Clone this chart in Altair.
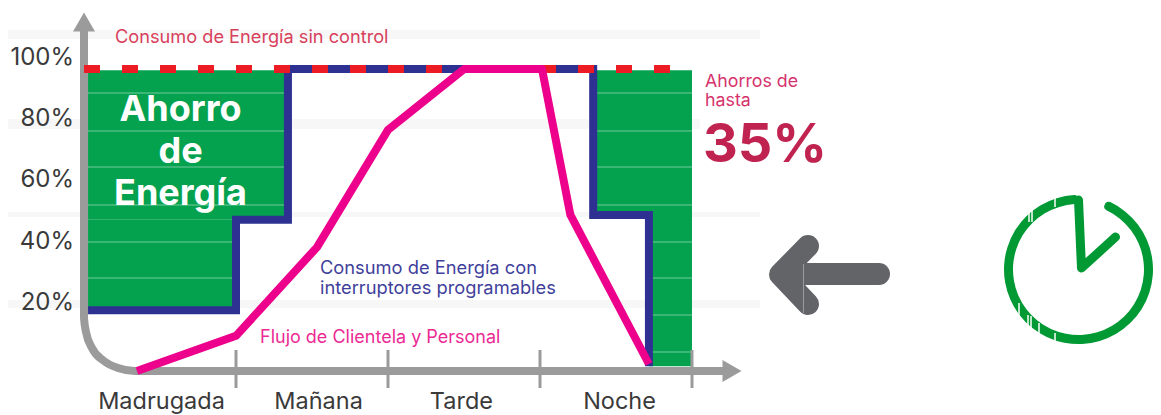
import altair as alt
import pandas as pd

W, H = 1145, 407

# Main series: x in hours of the day (0-24), y in percent
period_names = ["Madrugada", "Mañana", "Tarde", "Noche"]
period_label_h = [3.06, 9.26, 14.9, 21.14]
period_ticks_h = [6, 12, 18, 24]
pct_labels = ["100%", "80%", "60%", "40%", "20%"]
pct_values = [100, 80, 60, 40, 20]

switch_h = [0.16, 6, 6, 8.05, 8.05, 20.1, 20.1, 22.3, 22.3]
switch_pct = [17.6, 17.6, 47.1, 47.1, 96.4, 96.4, 48.7, 48.7, -0.7]

flow_h = [2.09, 6, 9.2, 12, 15, 18.08, 19.2, 22.3]
flow_pct = [-2.3, 9.2, 38.2, 76.5, 96.4, 96.4, 48.7, 0.0]

uncontrolled_h = [0, 24]
uncontrolled_pct = [96.4, 96.4]

saving_h = [0.16, 0.16, 20.1, 22.3]
saving_h2 = [8.05, 6, 24, 24]
saving_top = [96.0, 47.1, 96.0, 48.7]
saving_bot = [47.1, 17.6, 48.7, -0.7]


def hx(px):
    return (px - 84) / 25.333


def pc(py):
    return (364 - py) / 3.06


xs = alt.Scale(domain=[hx(8), hx(8 + W)], nice=False, zero=False)
ys = alt.Scale(domain=[pc(8 + H), pc(8)], nice=False, zero=False)
X = lambda f="x": alt.X(f"{f}:Q", scale=xs, axis=None)
Y = lambda f="y": alt.Y(f"{f}:Q", scale=ys, axis=None)


def line(x, y, color, width, **kw):
    df = pd.DataFrame({"x": x, "y": y, "i": range(len(x))})
    kw.setdefault("strokeCap", "butt")
    kw.setdefault("strokeJoin", "miter")
    return alt.Chart(df).mark_line(color=color, strokeWidth=width, **kw).encode(
        x=X(), y=Y(), order=alt.Order("i:Q")
    )


def rects(x, x2, y, y2, color, **kw):
    df = pd.DataFrame({"x": x, "x2": x2, "y": y, "y2": y2})
    return alt.Chart(df).mark_rect(color=color, **kw).encode(
        x=X(), x2="x2:Q", y=Y(), y2="y2:Q"
    )


def rules_v(px, top, bot, color, width):
    df = pd.DataFrame({"x": px, "y": top, "y2": bot})
    return alt.Chart(df).mark_rule(color=color, strokeWidth=width).encode(
        x=X(), y=Y(), y2="y2:Q"
    )


def text(s, px, py, size, color, align="left", weight=400):
    df = pd.DataFrame({"x": [hx(px)], "y": [pc(py)], "t": [s]})
    return alt.Chart(df).mark_text(
        font="Inter", fontSize=size, color=color, align=align, baseline="middle", fontWeight=weight
    ).encode(x=X(), y=Y(), text="t:N")


def marker(px, py, shape, size, color):
    df = pd.DataFrame({"x": [hx(px)], "y": [pc(py)]})
    return alt.Chart(df).mark_point(
        shape=shape, size=size, color=color, filled=True, opacity=1, strokeWidth=0
    ).encode(x=X(), y=Y())


GRAY = "#9b9b9b"
GREEN = "#04a24f"
BLUE = "#2e3192"
RED = "#ed1c24"
PINK = "#ec008c"
CLOCK = "#009933"
DARK = "#636468"
INK = "#3a3a3a"

layers = []

# faint bands of the scanned background
band_px = [(5, 760, 30, 39), (5, 700, 119, 129), (5, 760, 212, 217), (5, 760, 300, 308)]
layers.append(rects([hx(b[0]) for b in band_px], [hx(b[1]) for b in band_px],
                    [pc(b[2]) for b in band_px], [pc(b[3]) for b in band_px], "#f7f7f7"))

# saving areas
layers.append(rects(saving_h, saving_h2, saving_top, saving_bot, GREEN))

# thin pale lines over the green
for py in [93, 131, 167, 205, 242, 278, 315, 352]:
    layers.append(line([hx(88), hx(692)], [pc(py), pc(py)], "#ffffff", 1, opacity=0.45))

# axes
axis_px = [(84, 30), (84, 318), (86, 332), (92, 348), (104, 361), (118, 368), (135, 371), (725, 371)]
layers.append(line([hx(p[0]) for p in axis_px], [pc(p[1]) for p in axis_px], GRAY, 8, interpolate="monotone"))
layers.append(marker(84, 22, "triangle-up", 484, GRAY))
layers.append(marker(732, 371, "triangle-right", 484, GRAY))
layers.append(rules_v(period_ticks_h, [pc(350)] * 4, [pc(388)] * 4, GRAY, 3))

# series
layers.append(line(switch_h, switch_pct, BLUE, 8))
layers.append(line(uncontrolled_h, uncontrolled_pct, RED, 8, strokeDash=[16, 22]))
layers.append(line(flow_h, flow_pct, PINK, 8, strokeJoin="round"))

# text
for lab, v in zip(pct_labels, pct_values):
    layers.append(text(lab, 74, 364 - v * 3.06, 24, INK, align="right"))
for name, h in zip(period_names, period_label_h):
    layers.append(text(name, 84 + h * 25.333, 402, 23.5, INK, align="center"))
layers.append(text("Consumo de Energía sin control", 115, 38, 18.2, "#d8405c"))
layers.append(text("Ahorro", 180.5, 110, 36, "#ffffff", "center", 700))
layers.append(text("de", 180.5, 152, 36, "#ffffff", "center", 700))
layers.append(text("Energía", 180.5, 194, 36, "#ffffff", "center", 700))
layers.append(text("Consumo de Energía con", 320, 269, 18.3, "#3f3f9c"))
layers.append(text("interruptores programables", 320, 289, 18.3, "#3f3f9c"))
layers.append(text("Flujo de Clientela y Personal", 260, 338, 18, "#ec2a94"))
layers.append(text("Ahorros de", 705, 82, 17.8, "#d6336c"))
layers.append(text("hasta", 705, 101, 17.8, "#d6336c"))
layers.append(text("35%", 703, 146, 54, "#c0234f", "left", 700))

# left-pointing arrow
arrow_x = [808, 780, 808]
arrow_y = [246, 274.5, 304]
layers.append(line([hx(v) for v in arrow_x], [pc(v) for v in arrow_y], DARK, 22, strokeCap="round", strokeJoin="round"))
layers.append(line([hx(803), hx(879)], [pc(274), pc(274)], DARK, 22, strokeCap="round"))
layers.append(rules_v([hx(803.5)], [pc(264)], [pc(313)], "#9a9ba0", 1))

# clock (fits inside the drawable page width)
clock_df = pd.DataFrame({"x": [hx(1078.5)], "y": [pc(269.5)]})
layers.append(alt.Chart(clock_df).mark_arc(
    theta=0.384, theta2=6.283, innerRadius=65.5, outerRadius=74.5, cornerRadius=4, color=CLOCK
).encode(x=X(), y=Y()))
hand_x = [1078.5, 1081.5, 1115.5]
hand_y = [200, 268, 237]
layers.append(line([hx(v) for v in hand_x], [pc(v) for v in hand_y], CLOCK, 9, strokeCap="round", strokeJoin="round"))
slit_x = [1029, 1032, 1055, 1019, 1028, 1031, 1039, 1055]
slit_t = [208, 208, 195, 303, 315, 316, 323, 333]
slit_b = [222, 222, 207, 320, 327, 331, 334, 344]
layers.append(rules_v([hx(v) for v in slit_x], [pc(v) for v in slit_t], [pc(v) for v in slit_b], "#ffffff", 1.5))

chart = alt.layer(*layers).properties(
    width=W, height=H, padding=0, autosize=alt.AutoSizeParams(type="none")
).configure_view(stroke=None)

chart.save("out.html", embed_options={"renderer": "svg", "actions": False})
